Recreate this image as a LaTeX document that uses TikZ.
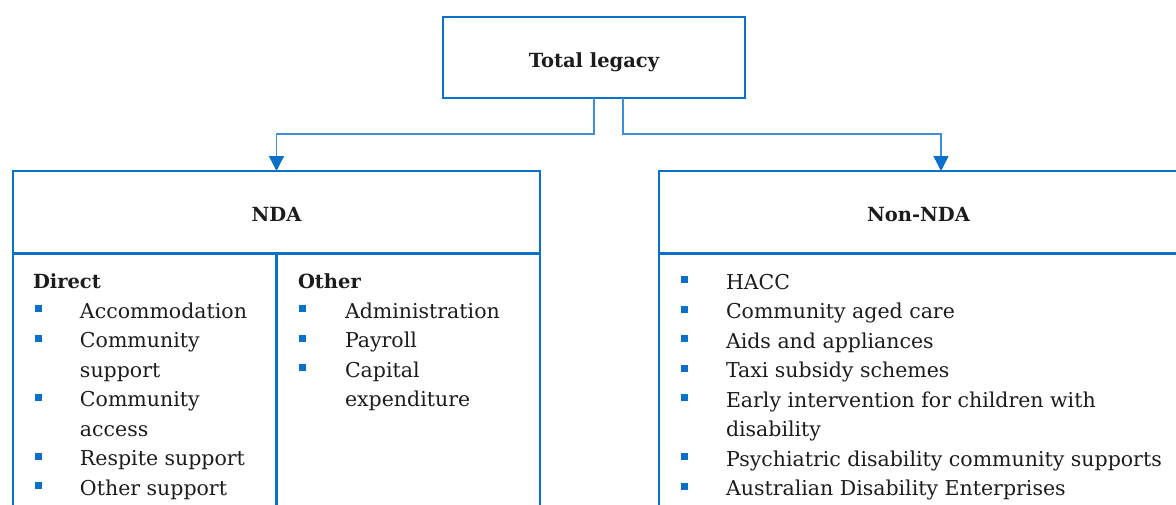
\documentclass[tikz,border=0pt]{standalone}
\usepackage{fontspec}
\setmainfont{DejaVu Serif}
\usetikzlibrary{arrows.meta}
\definecolor{boxblue}{HTML}{0A70CA}
\definecolor{linkblue}{HTML}{3C8FD6}
\definecolor{ink}{HTML}{1E1B1C}
% small blue square bullet
\newcommand{\sqbul}{\textcolor{boxblue}{\rule[6pt]{7pt}{7pt}}}
\newcommand{\headfont}{\fontsize{19.5}{29.5}\selectfont\bfseries}

\begin{document}
\begin{tikzpicture}[x=1pt,y=-1pt,
  frame/.style={draw=boxblue, line width=2.6pt, rectangle, inner sep=0pt, outer sep=0pt,
    text=ink, font=\headfont, text depth=0pt, text height=17.5pt},
  boxline/.style={draw=boxblue, line width=2.6pt},
  link/.style={draw=linkblue, line width=1.4pt,
    -{Triangle[width=15pt,length=15pt,color=boxblue]}},
  list/.style={anchor=base west, inner sep=0pt, outer sep=0pt, text=ink,
    font=\fontsize{20.5}{29.5}\selectfont}]
\useasboundingbox (0,0) rectangle (1176,504);
\clip (0,0) rectangle (1176,504);

% top box
\node[frame, text height=19pt, minimum width=302pt, minimum height=81pt] (total) at (594,57.5) {Total legacy};

% NDA box: header, body and column divider
\node[frame, minimum width=527pt, minimum height=82.5pt] (nda) at (276.5,212.25) {NDA};
\draw[boxline] (nda.south west) -- ++(0,300);
\draw[boxline] (nda.south east) -- ++(0,300);
\draw[boxline] (nda.south) -- ++(0,300);

% Non-NDA box: header and body
\node[frame, minimum width=519pt, minimum height=82.5pt] (nonnda) at (918.5,212.25) {Non-NDA};
\draw[boxline] (nonnda.south west) -- ++(0,300);
\draw[boxline] (nonnda.south east) -- ++(0,300);

% connectors
\coordinate (split) at (0,134);
\coordinate (tapR) at ([xshift=29pt]total.south);
\coordinate (arrR) at ([xshift=22.5pt]nonnda.north);
\draw[link] (total.south) -- (total.south |- split) -| (nda.north);
\draw[link] (tapR) -- (tapR |- split) -| (arrR);

% lists
\node[list] (direct) at (33,288.5) {\begin{tabular}[t]{@{}p{47pt}@{}l@{}}
\multicolumn{2}{@{}l@{}}{\headfont Direct}\\
\hspace{2pt}\sqbul & Accommodation\\
\hspace{2pt}\sqbul & Community\\
 & support\\
\hspace{2pt}\sqbul & Community\\
 & access\\
\hspace{2pt}\sqbul & Respite support\\
\hspace{2pt}\sqbul & Other support
\end{tabular}};

\node[list] (other) at (298,288.5) {\begin{tabular}[t]{@{}p{47pt}@{}l@{}}
\multicolumn{2}{@{}l@{}}{\headfont Other}\\
\hspace{1pt}\sqbul & Administration\\
\hspace{1pt}\sqbul & Payroll\\
\hspace{1pt}\sqbul & Capital\\
 & expenditure
\end{tabular}};

\node[list] (nonlist) at (681,289) {\begin{tabular}[t]{@{}p{45pt}@{}l@{}}
\sqbul & HACC\\
\sqbul & Community aged care\\
\sqbul & Aids and appliances\\
\sqbul & Taxi subsidy schemes\\
\sqbul & Early intervention for children with\\
 & disability\\
\sqbul & Psychiatric disability community supports\\
\sqbul & Australian Disability Enterprises
\end{tabular}};
\end{tikzpicture}
\end{document}
